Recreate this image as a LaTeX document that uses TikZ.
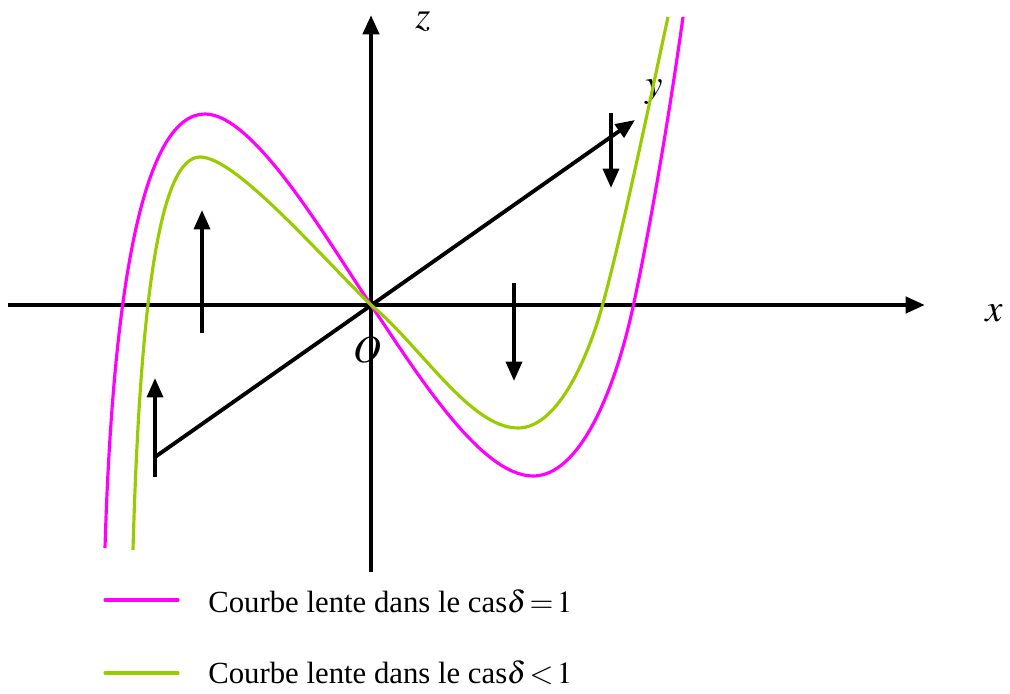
\documentclass[tikz,border=0pt]{standalone}
\usepackage{mathptmx}
\usepackage{fontspec}
\setmainfont{Liberation Serif}
\usepackage{tikz}
\usetikzlibrary{arrows.meta}
\definecolor{lentemag}{RGB}{255,0,255}
\definecolor{lentevert}{RGB}{153,204,0}
\tikzset{
  axe/.style={line width=2.6pt, -{Triangle[width=9pt,length=11pt]}},
  fleche/.style={line width=2.2pt, -{Triangle[width=9pt,length=11pt]}},
  courbe/.style={line width=1.8pt},
  etiq/.style={font=\fontsize{22}{26}\selectfont},
  legende/.style={font=\fontsize{17.5}{21}\selectfont, anchor=base west, inner sep=0pt},
}

\begin{document}
\begin{tikzpicture}[x=0.02cm, y=-0.02cm]
\useasboundingbox (0,0) rectangle (1010,693);
% axes
\coordinate (O) at (371,305);
\coordinate (xdeb) at (8,305);
\coordinate (xfin) at (925,305);
\coordinate (zdeb) at (371,572);
\coordinate (zfin) at (371,15);
\coordinate (ydeb) at (155,457);
\coordinate (yfin) at (635,120);
\draw[axe] (xdeb) -- (xfin);
\draw[axe] (zdeb) -- (zfin);
\draw[axe, line width=2.2pt] (ydeb) -- (yfin);
\node[etiq] (labx) at (994,313) {$x$};
\node[etiq] (laby) at (654,92) {$y$};
\node[etiq] (labz) at (423,22) {$z$};
\node[etiq] (labO) at (367,350) {$O$};

% courbes lentes
\coordinate (m0) at (105,548); \coordinate (m1) at (205,114);
\coordinate (m2) at (533,476); \coordinate (m3) at (633,307);
\coordinate (m4) at (683,17);
\draw[courbe, lentemag] (m0) .. controls (113,280) and (145,114) .. (m1)
  .. controls (255,114) and (330,245) .. (O)
  .. controls (415,370) and (480,476) .. (m2)
  .. controls (580,476) and (615,390) .. (m3)
  .. controls (651,224) and (670,110) .. (m4);
\coordinate (v0) at (133,550); \coordinate (v1) at (200,157);
\coordinate (v2) at (518,428); \coordinate (v3) at (602,307);
\coordinate (v4) at (668,17);
\draw[courbe, lentevert] (v0) .. controls (140,300) and (160,157) .. (v1)
  .. controls (235,157) and (315,250) .. (O)
  .. controls (420,345) and (470,428) .. (v2)
  .. controls (560,428) and (590,350) .. (v3)
  .. controls (622,235) and (650,100) .. (v4);

% fleches
\coordinate (f1a) at (202,333);  \coordinate (f1b) at (202,210);
\coordinate (f2a) at (155,477);  \coordinate (f2b) at (155,378);
\coordinate (f3a) at (514,283);  \coordinate (f3b) at (514,381);
\coordinate (f4a) at (611,113);  \coordinate (f4b) at (611,188);
\draw[fleche] (f1a) -- (f1b);
\draw[fleche] (f2a) -- (f2b);
\draw[fleche] (f3a) -- (f3b);
\draw[fleche] (f4a) -- (f4b);

% legende
\coordinate (l1a) at (105,600); \coordinate (l1b) at (178,600);
\coordinate (l2a) at (105,673); \coordinate (l2b) at (178,673);
\draw[courbe, lentemag, line cap=round] (l1a) -- (l1b);
\draw[courbe, lentevert, line cap=round] (l2a) -- (l2b);
\node[legende] (leg1) at (208,612) {Courbe lente dans le cas$\delta\mkern-2mu=\mkern-2mu1$};
\node[legende] (leg2) at (208,683) {Courbe lente dans le cas$\delta\mkern-2mu<\mkern-2mu1$};
\end{tikzpicture}
\end{document}
